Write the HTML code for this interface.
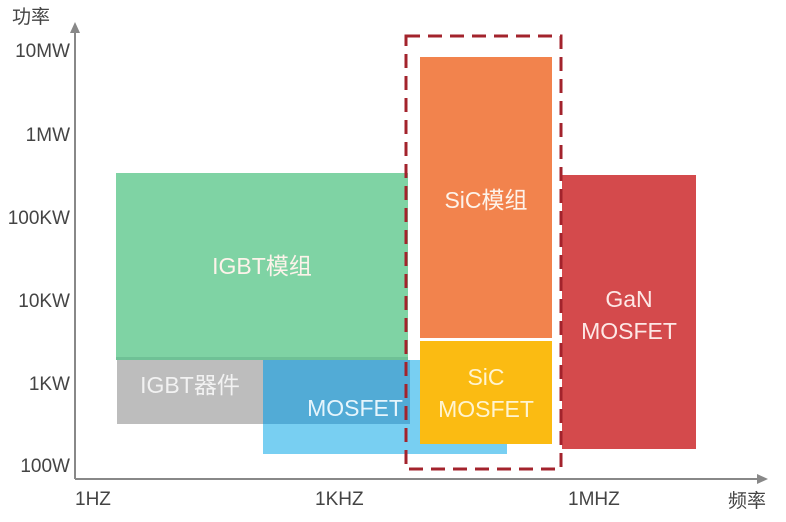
<!DOCTYPE html>
<html><head><meta charset="utf-8"><style>
body{margin:0;width:786px;height:522px;background:#fff;overflow:hidden;position:relative;font-family:"Liberation Sans","Noto Sans CJK SC",sans-serif;}
.a{position:absolute}
.t{position:absolute;color:#444;font-size:19px;line-height:1;white-space:nowrap}
.yl{right:716px;text-align:right}
.c{position:absolute;display:flex;align-items:center;justify-content:center;text-align:center;color:#fdf3ea;font-size:23px;line-height:1.4}
</style></head><body>
<div class="a" style="left:116px;top:173px;width:292px;height:187px;background:#7fd3a4;border-bottom:3px solid #6fc196;box-sizing:border-box"></div>
<div class="a" style="left:263px;top:360px;width:244px;height:94px;background:#78cff2"></div>
<div class="a" style="left:263px;top:360px;width:147px;height:64px;background:#52abd6"></div>
<div class="a" style="left:117px;top:360px;width:146px;height:64px;background:#bdbdbd"></div>
<div class="a" style="left:420px;top:57px;width:132px;height:281px;background:#f2834d"></div>
<div class="a" style="left:420px;top:341px;width:132px;height:103px;background:#fbbb12"></div>
<div class="a" style="left:562px;top:175px;width:134px;height:274px;background:#d44a4c"></div>
<svg class="a" style="left:0;top:0" width="786" height="522">
<rect x="406" y="36" width="155" height="433" fill="none" stroke="#a3232c" stroke-width="3" stroke-dasharray="14 8"/>
<line x1="75" y1="30" x2="75" y2="479" stroke="#888" stroke-width="2"/>
<polygon points="75,22 70,33 80,33" fill="#888"/>
<line x1="75" y1="479" x2="760" y2="479" stroke="#888" stroke-width="2"/>
<polygon points="768,479 757,474 757,484" fill="#888"/>
</svg>
<div class="c" style="left:116px;top:173px;width:292px;height:187px">IGBT模组</div>
<div class="c" style="left:117px;top:360px;width:146px;height:50px;color:#f2f2f2">IGBT器件</div>
<div class="c" style="left:290px;top:388px;width:130px;height:40px;color:#e6f5fc">MOSFET</div>
<div class="c" style="left:420px;top:170px;width:132px;height:60px">SiC模组</div>
<div class="c" style="left:420px;top:353px;width:132px;height:80px;color:#fff4d0">SiC<br>MOSFET</div>
<div class="c" style="left:562px;top:270px;width:134px;height:90px;color:#fde8e6">GaN<br>MOSFET</div>
<div class="t" style="left:12px;top:8px">功率</div>
<div class="t yl" style="top:42px">10MW</div>
<div class="t yl" style="top:126px">1MW</div>
<div class="t yl" style="top:209px">100KW</div>
<div class="t yl" style="top:292px">10KW</div>
<div class="t yl" style="top:375px">1KW</div>
<div class="t yl" style="top:457px">100W</div>
<div class="t" style="left:75px;top:490px">1HZ</div>
<div class="t" style="left:315px;top:490px">1KHZ</div>
<div class="t" style="left:568px;top:490px">1MHZ</div>
<div class="t" style="left:728px;top:492px">频率</div>
</body></html>
